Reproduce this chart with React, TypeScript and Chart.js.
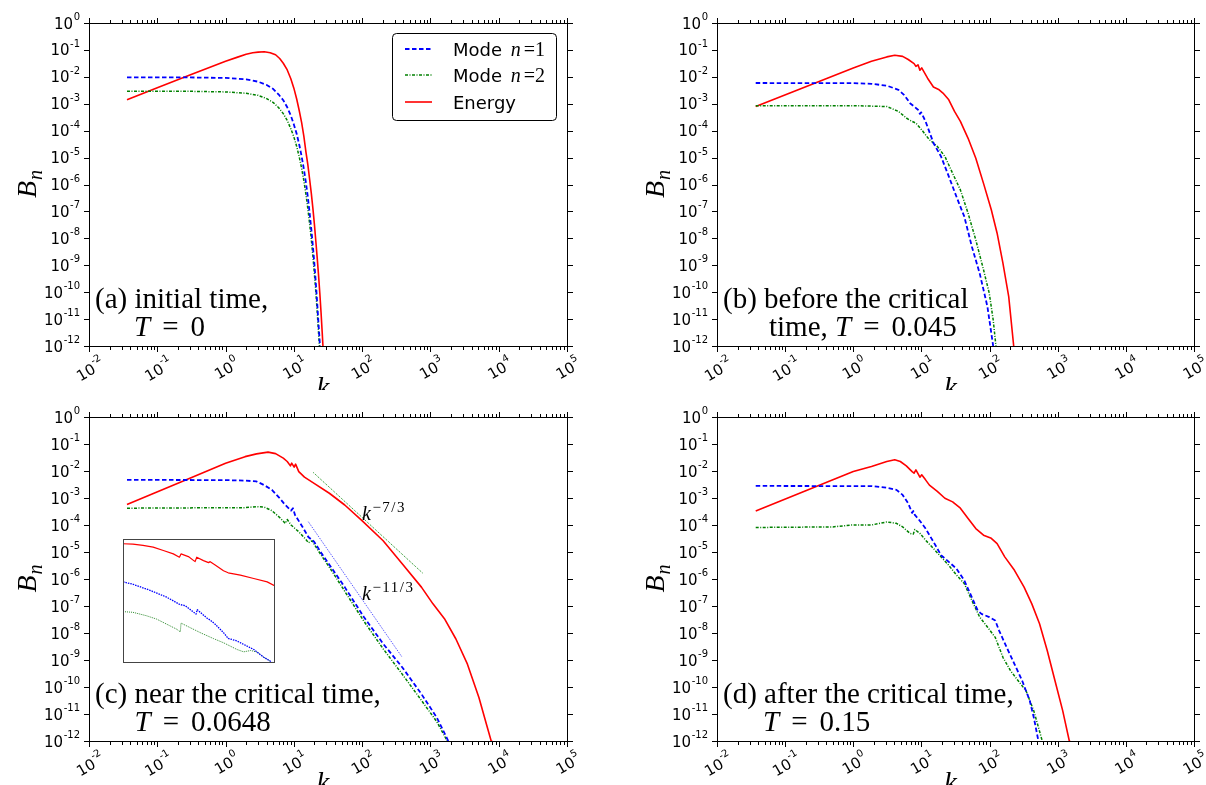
import { useEffect, useRef } from 'react';
import { Chart, registerables } from 'chart.js';

Chart.register(...registerables);

const BLUE = '#0000ff';
const GREEN = '#008000';
const RED = '#ff0000';
const SANS = '"DejaVu Sans", sans-serif';
const SERIF = '"Liberation Serif", "Times New Roman", serif';

// ---- axes / ticks ----
const xMajorTicks = [1e-2, 1e-1, 1, 1e1, 1e2, 1e3, 1e4, 1e5];
const xTickExponents = ['-2', '-1', '0', '1', '2', '3', '4', '5'];
const xMinorFactors = [2, 3, 4, 5, 6, 7, 8, 9];
const yMajorTicks = [1, 1e-1, 1e-2, 1e-3, 1e-4, 1e-5, 1e-6, 1e-7, 1e-8, 1e-9, 1e-10, 1e-11, 1e-12];
const yTickExponents = ['0', '-1', '-2', '-3', '-4', '-5', '-6', '-7', '-8', '-9', '-10', '-11', '-12'];
const xAxisTitle = 'k';
const yAxisTitle = ['B', 'n'];

// ---- texts ----
const panelTitles = ['(a) initial time,', '(b) before the critical', '(c) near the critical time,', '(d) after the critical time,'];
const panelPrefixes = ['', 'time, ', '', ''];
const panelTimes = ['0', '0.045', '0.0648', '0.15'];
const legendEntries = [['Mode ', 'n', '=1'], ['Mode ', 'n', '=2'], ['Energy', '', '']];
const slopeLabels = [['k', '\u22127/3'], ['k', '\u221211/3']];

// ---- panel (a) T = 0 ----
const aBlueK = [0.036, 0.3, 1, 2, 3, 4, 5, 6, 7, 8, 9, 10, 11, 12, 13, 14, 15, 16, 17, 18, 19, 20, 21, 22, 23, 24.2];
const aBlueB = [9.5e-3, 9.5e-3, 9.1e-3, 8.1e-3, 6.6e-3, 5.0e-3, 3.5e-3, 2.2e-3, 1.35e-3, 7.4e-4, 3.7e-4, 1.7e-4, 7.6e-5, 3.0e-5, 1.1e-5, 3.8e-6, 1.2e-6, 3.5e-7, 9e-8, 2.2e-8, 5e-9, 1.1e-9, 2.1e-10, 3.8e-11, 6.3e-12, 9e-13];
const aGreenK = [0.036, 0.3, 1, 2, 3, 4, 5, 6, 7, 8, 9, 10, 11, 12, 13, 14, 15, 16, 17, 18, 19, 20, 21, 22, 23, 23.8];
const aGreenB = [2.9e-3, 2.9e-3, 2.75e-3, 2.45e-3, 2.05e-3, 1.55e-3, 1.1e-3, 7.1e-4, 4.3e-4, 2.4e-4, 1.2e-4, 5.9e-5, 2.6e-5, 1.05e-5, 4.0e-6, 1.4e-6, 4.5e-7, 1.3e-7, 3.6e-8, 9.3e-9, 2.2e-9, 4.8e-10, 9.8e-11, 1.8e-11, 3.1e-12, 8e-13];
const aRedK = [0.036, 0.1, 0.3, 1, 1.5, 2, 2.5, 3, 3.7, 4.5, 5.4, 6.2, 7, 8, 9, 10, 11, 12, 13, 14, 15, 16, 17, 18, 19, 20, 21, 22, 23, 24, 25, 26, 26.8];
const aRedB = [1.41e-3, 3.9e-3, 1.17e-2, 3.8e-2, 5.4e-2, 6.9e-2, 7.9e-2, 8.3e-2, 8.5e-2, 7.9e-2, 6.6e-2, 4.8e-2, 3.2e-2, 1.8e-2, 8.7e-3, 3.8e-3, 1.5e-3, 5.5e-4, 2.0e-4, 6.3e-5, 1.66e-5, 5.6e-6, 1.6e-6, 4.8e-7, 1.3e-7, 3.3e-8, 7.6e-9, 1.8e-9, 4.2e-10, 9.1e-11, 1.8e-11, 3.2e-12, 8e-13];

// ---- panel (b) T = 0.045 ----
const bBlueK = [0.037, 1, 1.85, 3.1, 4.6, 5.6, 6.8, 8.9, 9.5, 9.9, 11.5, 15, 19.4, 25.2, 32.7, 42.5, 55, 71.6, 93, 113, 116];
const bBlueB = [5.9e-3, 5.8e-3, 5.5e-3, 4.7e-3, 3.3e-3, 2.1e-3, 1.05e-3, 6.0e-4, 4.2e-4, 4.8e-4, 2.2e-4, 3.5e-5, 1.1e-5, 2.0e-6, 3.5e-7, 6.5e-8, 4.9e-9, 5e-10, 2.9e-11, 1e-12, 7e-13];
const bGreenK = [0.037, 1, 3.1, 4.6, 6.0, 7.3, 8.3, 10.1, 13.1, 15, 17.1, 22.1, 28.7, 37.3, 48.4, 62.8, 81.5, 99, 113, 124, 126];
const bGreenB = [8.5e-4, 8.5e-4, 7.9e-4, 5.2e-4, 2.95e-4, 2.2e-4, 1.9e-4, 1.07e-4, 4.6e-5, 3.5e-5, 2.6e-5, 1.1e-5, 2.6e-6, 6.3e-7, 8.5e-8, 8.7e-9, 6.8e-10, 9.1e-11, 9.3e-12, 1e-12, 7e-13];
const bRedK = [0.037, 1, 1.85, 3.1, 4.06, 5.3, 6.4, 7.8, 8.3, 8.9, 9.5, 10.1, 10.8, 12.3, 15, 18.2, 20.7, 25.2, 30.6, 37.3, 48.4, 62.8, 81.5, 106, 129, 157, 191, 226, 230];
const bRedB = [7.9e-4, 2.15e-2, 3.8e-2, 5.5e-2, 6.3e-2, 5.75e-2, 4.4e-2, 3.1e-2, 2.45e-2, 2.8e-2, 1.75e-2, 2.15e-2, 1.6e-2, 8.9e-3, 4.2e-3, 3.3e-3, 2.5e-3, 1.4e-3, 5.2e-4, 2.2e-4, 5.2e-5, 9.5e-6, 1.1e-6, 1.15e-7, 1.55e-8, 1.2e-9, 6.8e-11, 1e-12, 7e-13];

// ---- panel (c) T = 0.0648 ----
const cBlueK = [0.036, 1, 1.93, 2.84, 3.68, 4.77, 6.2, 7.5, 9.1, 9.7, 10.4, 13.4, 16.3, 19.8, 25.6, 37.7, 55.6, 106, 203, 386, 738, 1239, 1778, 1850];
const cBlueB = [4.7e-3, 4.6e-3, 4.4e-3, 4.1e-3, 3.0e-3, 2.0e-3, 9.8e-4, 5.5e-4, 3.4e-4, 4.2e-4, 2.35e-4, 8.5e-5, 3.6e-5, 2.4e-5, 8.7e-6, 2.1e-6, 5e-7, 3.9e-8, 4e-9, 5.4e-10, 5.5e-11, 7.4e-12, 1.15e-12, 9e-13];
const cGreenK = [0.036, 1.93, 2.84, 3.68, 4.77, 6.2, 7.5, 8.0, 9.1, 11.8, 15.3, 16.3, 18.5, 22.5, 37.7, 55.6, 106, 203, 386, 738, 1239, 1710, 1790];
const cGreenB = [4.2e-4, 4.4e-4, 4.8e-4, 4.6e-4, 3.4e-4, 1.9e-4, 1.15e-4, 1.6e-4, 1.0e-4, 5.6e-5, 2.75e-5, 2.2e-5, 2.6e-5, 1.17e-5, 1.66e-6, 3.5e-7, 2.75e-8, 2.6e-9, 3e-10, 3.2e-11, 5.2e-12, 1.15e-12, 8e-13];
const cRedK = [0.036, 0.3, 1, 1.93, 2.84, 4.19, 5.4, 7.0, 8.0, 8.9, 9.3, 10.1, 10.6, 11.8, 14.3, 19.8, 33.1, 55.6, 99.5, 203, 386, 738, 1089, 1604, 2362, 3483, 5130, 6610, 7760, 7900];
const cRedB = [5.8e-4, 5.4e-3, 1.95e-2, 3.4e-2, 4.3e-2, 5.0e-2, 4.4e-2, 3.0e-2, 2.25e-2, 1.55e-2, 1.95e-2, 1.4e-2, 1.8e-2, 9.5e-3, 5.9e-3, 3.5e-3, 1.5e-3, 5.5e-4, 1.45e-4, 2.6e-5, 3.7e-6, 5e-7, 1.2e-7, 3.4e-8, 6e-9, 7e-10, 4.1e-11, 4.2e-12, 1e-12, 8e-13];
const cSlope73K = [19.3, 767];
const cSlope73B = [8.75e-3, 1.67e-6];
const cSlope113K = [16.3, 386];
const cSlope113B = [1.32e-4, 1.26e-9];

// ---- panel (d) T = 0.15 ----
const dBlueK = [0.037, 1.85, 3.1, 4.3, 5.3, 6.4, 7.3, 7.6, 8.0, 8.9, 10.1, 11.5, 15, 19.4, 25.2, 32.7, 42.5, 55, 67, 76, 99, 121, 138, 178, 232, 301, 389, 446, 521, 535];
const dBlueB = [2.8e-3, 2.75e-3, 2.4e-3, 2.0e-3, 1.3e-3, 6.3e-4, 2.8e-4, 3.3e-4, 2.35e-4, 1.75e-4, 1.15e-4, 7.4e-5, 2.4e-5, 7.6e-6, 4.3e-6, 2.4e-6, 8.9e-7, 2.1e-7, 6.8e-8, 5.1e-8, 3.9e-8, 2.9e-8, 1.23e-8, 2.95e-9, 7.1e-10, 1.7e-10, 3.1e-11, 7.4e-12, 1e-12, 7e-13];
const dGreenK = [0.037, 0.5, 0.96, 1.85, 3.1, 4.3, 5.3, 6.8, 7.6, 8.0, 9.5, 11.5, 15, 19.4, 25.2, 32.7, 42.5, 55, 71.6, 93, 121, 157, 203, 263, 343, 446, 541, 593, 600];
const dGreenB = [8.1e-5, 8.5e-5, 1.0e-4, 1.0e-4, 1.3e-4, 1.15e-4, 8.5e-5, 4.9e-5, 4.6e-5, 6.8e-5, 4.9e-5, 2.75e-5, 1.35e-5, 6.6e-6, 3.2e-6, 1.4e-6, 6.8e-7, 1.6e-7, 3.9e-8, 1.66e-8, 6.9e-9, 1.26e-9, 4e-10, 1.7e-10, 7.2e-11, 1.3e-11, 2.3e-12, 1e-12, 8e-13];
const dRedK = [0.037, 1, 1.85, 3.1, 4.06, 4.9, 6.0, 7.3, 7.8, 8.3, 9.5, 10.1, 11.5, 13.1, 17.1, 22.1, 28.7, 37.3, 48.4, 62.8, 81.5, 106, 129, 167, 232, 321, 417, 541, 703, 912, 1185, 1480, 1500];
const dRedB = [3.3e-4, 9.5e-3, 1.48e-2, 2.25e-2, 2.6e-2, 2.25e-2, 1.55e-2, 9.5e-3, 8.3e-3, 1.1e-2, 5.9e-3, 7.2e-3, 4.7e-3, 3.0e-3, 1.75e-3, 9.8e-4, 7.2e-4, 4.2e-4, 1.75e-4, 7.4e-5, 4.2e-5, 3.2e-5, 2.05e-5, 6.6e-6, 2.1e-6, 5e-7, 1.2e-7, 2.2e-8, 2.2e-9, 1.7e-10, 1.3e-11, 1e-12, 8e-13];

// ---- inset of panel (c) ----
const insetRedK = [6.0, 6.49, 7.03, 7.62, 8.26, 8.94, 9.38, 9.5, 10.07, 10.62, 10.76, 11.35, 11.81, 11.97, 12.45, 13.3, 13.8, 15.2, 16.9, 18.8, 20];
const insetRedB = [0.0703, 0.0687, 0.0621, 0.0547, 0.0426, 0.0331, 0.0258, 0.0331, 0.0271, 0.0186, 0.0258, 0.0201, 0.0173, 0.0186, 0.0145, 0.00944, 0.00813, 0.00682, 0.00531, 0.00413, 0.00305];
const insetBlueK = [6.0, 6.49, 7.43, 8.48, 9.42, 9.8, 10.7, 10.8, 11.06, 11.66, 11.97, 12.45, 13.3, 13.8, 14.8, 15.6, 16.9, 18.3, 19.3, 19.9];
const insetBlueB = [4.13e-3, 3.47e-3, 2.21e-3, 1.33e-3, 7.67e-4, 7.13e-4, 3.8e-4, 5.27e-4, 4.32e-4, 2.82e-4, 2.42e-4, 1.79e-4, 9.55e-5, 6.24e-5, 5.13e-5, 3.98e-5, 2.73e-5, 1.53e-5, 1.14e-5, 9e-6];
const insetGreenK = [6.0, 6.49, 7.22, 7.83, 8.48, 9.18, 9.45, 9.5, 10.2, 11.06, 12.3, 13.3, 14.8, 15.6, 16.5, 17.4, 18.3, 19.3];
const insetGreenB = [4.54e-4, 4.32e-4, 3.35e-4, 2.61e-4, 1.79e-4, 1.23e-4, 1.01e-4, 1.94e-4, 1.39e-4, 9.55e-5, 6.1e-5, 4.5e-5, 2.73e-5, 2.29e-5, 2.53e-5, 2.24e-5, 1.53e-5, 1.14e-5];

type Series = { k: number[]; b: number[]; color: string; width: number; dash: number[] };
type Spec = {
  x: number; y: number; w: number; h: number;
  pad: { left: number; right: number; top: number; bottom: number };
  xMin: number; xMax: number; yMin: number; yMax: number;
  series: Series[];
  bg?: string;
  decorate: (ctx: CanvasRenderingContext2D, chart: any) => void;
};

const blueStyle = { color: BLUE, width: 1.8, dash: [4.5, 2.5] };
const greenStyle = { color: GREEN, width: 1.5, dash: [3, 1.5, 1, 1.5] };
const redStyle = { color: RED, width: 1.6, dash: [] as number[] };

function mainSeries(bk: number[], bb: number[], gk: number[], gb: number[], rk: number[], rb: number[]): Series[] {
  return [
    { k: bk, b: bb, ...blueStyle },
    { k: gk, b: gb, ...greenStyle },
    { k: rk, b: rb, ...redStyle },
  ];
}

function drawAxes(ctx: CanvasRenderingContext2D, chart: any) {
  const a = chart.chartArea;
  const xs = chart.scales.x;
  const ys = chart.scales.y;
  const L = a.left, R = a.right, T = a.top, B = a.bottom;
  ctx.setLineDash([]);
  ctx.strokeStyle = '#000';
  ctx.lineWidth = 1;
  ctx.strokeRect(L + 0.5, T + 0.5, R - L, B - T);
  const px = (v: number) => Math.round(xs.getPixelForValue(v)) + 0.5;
  const py = (v: number) => Math.round(ys.getPixelForValue(v)) + 0.5;
  ctx.beginPath();
  xMajorTicks.forEach((v) => {
    const x = px(v);
    ctx.moveTo(x, B + 1); ctx.lineTo(x, B + 6);
    ctx.moveTo(x, T); ctx.lineTo(x, T - 5);
  });
  xMajorTicks.slice(0, -1).forEach((v) => {
    xMinorFactors.forEach((m) => {
      const x = px(v * m);
      ctx.moveTo(x, B + 1); ctx.lineTo(x, B + 4);
      ctx.moveTo(x, T); ctx.lineTo(x, T - 3);
    });
  });
  yMajorTicks.forEach((v) => {
    const y = py(v);
    ctx.moveTo(L, y); ctx.lineTo(L - 5, y);
    ctx.moveTo(R + 1, y); ctx.lineTo(R + 6, y);
  });
  ctx.stroke();

  ctx.fillStyle = '#000';
  ctx.textBaseline = 'alphabetic';
  yMajorTicks.forEach((v, i) => {
    const y = ys.getPixelForValue(v);
    const exp = yTickExponents[i];
    ctx.textAlign = 'right';
    ctx.font = `10px ${SANS}`;
    const we = ctx.measureText(exp).width;
    const xr = L - 9;
    ctx.fillText(exp, xr, y + 5.5 - 8.5);
    ctx.font = `15px ${SANS}`;
    ctx.fillText('10', xr - we - 0.5, y + 5.5);
  });
  const th = -Math.PI / 6;
  const c = Math.cos(th), s = Math.sin(th);
  xMajorTicks.forEach((v, i) => {
    const x = xs.getPixelForValue(v);
    const exp = xTickExponents[i];
    ctx.font = `15px ${SANS}`;
    const w10 = ctx.measureText('10').width;
    ctx.font = `10px ${SANS}`;
    const we = ctx.measureText(exp).width;
    const W = w10 + 0.5 + we;
    const H = 16;
    const pts = [[0, 0], [W, 0], [0, -H], [W, -H]].map(([lx, ly]) => [lx * c - ly * s, lx * s + ly * c]);
    const minX = Math.min(...pts.map((p) => p[0]));
    const maxX = Math.max(...pts.map((p) => p[0]));
    const minY = Math.min(...pts.map((p) => p[1]));
    const ox = x - (minX + maxX) / 2;
    const oy = B + 7 - minY;
    ctx.save();
    ctx.translate(ox, oy);
    ctx.rotate(th);
    ctx.textAlign = 'left';
    ctx.font = `15px ${SANS}`;
    ctx.fillText('10', 0, 0);
    ctx.font = `10px ${SANS}`;
    ctx.fillText(exp, w10 + 0.5, -8.5);
    ctx.restore();
  });
  ctx.textAlign = 'center';
  ctx.font = `italic 29px ${SERIF}`;
  ctx.fillText(xAxisTitle, (L + R) / 2 - 5, B + 51);
  ctx.save();
  ctx.translate(L - 53, (T + B) / 2);
  ctx.rotate(-Math.PI / 2);
  ctx.textAlign = 'left';
  ctx.font = `italic 28px ${SERIF}`;
  const wb = ctx.measureText(yAxisTitle[0]).width;
  ctx.font = `italic 20px ${SERIF}`;
  const wn = ctx.measureText(yAxisTitle[1]).width;
  const st = -(wb + wn) / 2;
  ctx.font = `italic 28px ${SERIF}`;
  ctx.fillText(yAxisTitle[0], st, 0);
  ctx.font = `italic 20px ${SERIF}`;
  ctx.fillText(yAxisTitle[1], st + wb + 1, 6);
  ctx.restore();
}

function drawCaption(ctx: CanvasRenderingContext2D, chart: any, idx: number, off2: number) {
  const a = chart.chartArea;
  const L = a.left, B = a.bottom;
  ctx.fillStyle = '#000';
  ctx.textAlign = 'left';
  ctx.textBaseline = 'alphabetic';
  const up = `29px ${SERIF}`;
  const it = `italic 29px ${SERIF}`;
  ctx.font = up;
  ctx.fillText(panelTitles[idx], L + 6, B - 38);
  let cx = L + off2;
  const y2 = B - 10;
  if (panelPrefixes[idx]) {
    ctx.fillText(panelPrefixes[idx], cx, y2);
    cx += ctx.measureText(panelPrefixes[idx]).width;
  }
  ctx.font = it;
  ctx.fillText('T', cx, y2);
  cx += ctx.measureText('T').width + 12;
  ctx.font = up;
  ctx.fillText('=', cx, y2);
  cx += ctx.measureText('=').width + 12;
  ctx.fillText(panelTimes[idx], cx, y2);
}

function drawLegend(ctx: CanvasRenderingContext2D) {
  const x0 = 392.5, y0 = 33.5, w = 164, h = 87, r = 4;
  ctx.setLineDash([]);
  ctx.beginPath();
  ctx.moveTo(x0 + r, y0);
  ctx.lineTo(x0 + w - r, y0);
  ctx.arcTo(x0 + w, y0, x0 + w, y0 + r, r);
  ctx.lineTo(x0 + w, y0 + h - r);
  ctx.arcTo(x0 + w, y0 + h, x0 + w - r, y0 + h, r);
  ctx.lineTo(x0 + r, y0 + h);
  ctx.arcTo(x0, y0 + h, x0, y0 + h - r, r);
  ctx.lineTo(x0, y0 + r);
  ctx.arcTo(x0, y0, x0 + r, y0, r);
  ctx.closePath();
  ctx.fillStyle = '#fff';
  ctx.fill();
  ctx.strokeStyle = '#000';
  ctx.lineWidth = 1;
  ctx.stroke();
  const rows = [49, 75, 102];
  const styles = [blueStyle, greenStyle, redStyle];
  rows.forEach((y, i) => {
    const st = styles[i];
    ctx.strokeStyle = st.color;
    ctx.lineWidth = st.width;
    ctx.setLineDash(st.dash);
    ctx.beginPath();
    ctx.moveTo(405, y);
    ctx.lineTo(432, y);
    ctx.stroke();
    ctx.setLineDash([]);
    ctx.fillStyle = '#000';
    ctx.textAlign = 'left';
    const [t1, t2, t3] = legendEntries[i];
    let cx = 453;
    ctx.font = `18px ${SANS}`;
    ctx.fillText(t1, cx, y + 6.5);
    cx += ctx.measureText(t1).width + 3;
    if (t2) {
      ctx.font = `italic 20px ${SERIF}`;
      ctx.fillText(t2, cx, y + 6.5);
      cx += ctx.measureText(t2).width + 3;
      ctx.font = `20px ${SERIF}`;
      ctx.fillText(t3, cx, y + 6.5);
    }
  });
}

function drawSlopeLabels(ctx: CanvasRenderingContext2D) {
  const pos = [[362, 130], [362, 210]];
  slopeLabels.forEach(([base, exp], i) => {
    const [x, y] = pos[i];
    ctx.fillStyle = '#000';
    ctx.textAlign = 'left';
    ctx.font = `italic 20px ${SERIF}`;
    ctx.fillText(base, x, y);
    const wk = ctx.measureText(base).width;
    ctx.font = `15px ${SERIF}`;
    (ctx as any).letterSpacing = '1.5px';
    ctx.fillText(exp, x + wk + 1.5, y - 8);
    (ctx as any).letterSpacing = '0px';
  });
}

const specA: Spec = {
  x: 0, y: 0, w: 603, h: 390,
  pad: { left: 89, right: 36, top: 23, bottom: 44 },
  xMin: 1e-2, xMax: 1e5, yMin: 1e-12, yMax: 1,
  series: mainSeries(aBlueK, aBlueB, aGreenK, aGreenB, aRedK, aRedB),
  decorate: (ctx, chart) => { drawAxes(ctx, chart); drawCaption(ctx, chart, 0, 45); drawLegend(ctx); },
};
const specB: Spec = {
  x: 603, y: 0, w: 603, h: 390,
  pad: { left: 114, right: 12, top: 23, bottom: 44 },
  xMin: 1e-2, xMax: 1e5, yMin: 1e-12, yMax: 1,
  series: mainSeries(bBlueK, bBlueB, bGreenK, bGreenB, bRedK, bRedB),
  decorate: (ctx, chart) => { drawAxes(ctx, chart); drawCaption(ctx, chart, 1, 52); },
};
const specC: Spec = {
  x: 0, y: 390, w: 603, h: 395,
  pad: { left: 89, right: 36, top: 27, bottom: 44 },
  xMin: 1e-2, xMax: 1e5, yMin: 1e-12, yMax: 1,
  series: [
    { k: cSlope73K, b: cSlope73B, color: GREEN, width: 1, dash: [1, 1.2] },
    { k: cSlope113K, b: cSlope113B, color: BLUE, width: 0.8, dash: [1, 1.2] },
    ...mainSeries(cBlueK, cBlueB, cGreenK, cGreenB, cRedK, cRedB),
  ],
  decorate: (ctx, chart) => { drawAxes(ctx, chart); drawCaption(ctx, chart, 2, 45.6); drawSlopeLabels(ctx); },
};
const specD: Spec = {
  x: 603, y: 390, w: 603, h: 395,
  pad: { left: 114, right: 12, top: 27, bottom: 44 },
  xMin: 1e-2, xMax: 1e5, yMin: 1e-12, yMax: 1,
  series: mainSeries(dBlueK, dBlueB, dGreenK, dGreenB, dRedK, dRedB),
  decorate: (ctx, chart) => { drawAxes(ctx, chart); drawCaption(ctx, chart, 3, 46); },
};
const specInset: Spec = {
  x: 123, y: 539, w: 152, h: 124,
  pad: { left: 0, right: 0, top: 0, bottom: 0 },
  xMin: 6, xMax: 20, yMin: 1e-5, yMax: 1e-1,
  bg: '#fff',
  series: [
    { k: insetRedK, b: insetRedB, color: RED, width: 1.2, dash: [] },
    { k: insetBlueK, b: insetBlueB, color: BLUE, width: 1.3, dash: [1.5, 1] },
    { k: insetGreenK, b: insetGreenB, color: '#2e8b2e', width: 1, dash: [1, 1] },
  ],
  decorate: (ctx, chart) => {
    const a = chart.chartArea;
    ctx.setLineDash([]);
    ctx.strokeStyle = '#444';
    ctx.lineWidth = 1;
    ctx.strokeRect(a.left + 0.5, a.top + 0.5, a.right - a.left - 1, a.bottom - a.top - 1);
  },
};

function ChartPanel({ spec }: { spec: Spec }) {
  const ref = useRef<HTMLCanvasElement | null>(null);
  useEffect(() => {
    const canvas = ref.current;
    if (!canvas) return;
    const chart = new Chart(canvas, {
      type: 'scatter',
      data: {
        datasets: spec.series.map((s) => ({
          data: s.k.map((k, i) => ({ x: k, y: s.b[i] })),
          showLine: true,
          borderColor: s.color,
          backgroundColor: s.color,
          borderWidth: s.width,
          borderDash: s.dash,
          borderCapStyle: 'butt',
          borderJoinStyle: 'round',
          pointRadius: 0,
          pointHoverRadius: 0,
          pointHitRadius: 0,
          tension: 0,
          fill: false,
          clip: 0,
        })),
      },
      options: {
        animation: false,
        responsive: false,
        maintainAspectRatio: false,
        devicePixelRatio: 1,
        events: [],
        layout: { padding: spec.pad },
        plugins: { legend: { display: false }, tooltip: { enabled: false } },
        scales: {
          x: { type: 'logarithmic', min: spec.xMin, max: spec.xMax, display: false },
          y: { type: 'logarithmic', min: spec.yMin, max: spec.yMax, display: false },
        },
      },
      plugins: [
        {
          id: 'bgfill',
          beforeDraw: (c: any) => {
            if (!spec.bg) return;
            c.ctx.save();
            c.ctx.fillStyle = spec.bg;
            c.ctx.fillRect(0, 0, c.width, c.height);
            c.ctx.restore();
          },
        },
        {
          id: 'decor',
          afterDraw: (c: any) => {
            c.ctx.save();
            spec.decorate(c.ctx, c);
            c.ctx.restore();
          },
        },
      ],
    } as any);
    return () => chart.destroy();
  }, [spec]);
  return (
    <canvas
      ref={ref}
      width={spec.w}
      height={spec.h}
      style={{ position: 'absolute', left: spec.x, top: spec.y, width: spec.w, height: spec.h, display: 'block' }}
    />
  );
}

export default function App() {
  return (
    <div style={{ position: 'fixed', left: 0, top: 0, width: 1206, height: 785, background: '#fff', overflow: 'hidden' }}>
      <ChartPanel spec={specA} />
      <ChartPanel spec={specB} />
      <ChartPanel spec={specC} />
      <ChartPanel spec={specD} />
      <ChartPanel spec={specInset} />
    </div>
  );
}
